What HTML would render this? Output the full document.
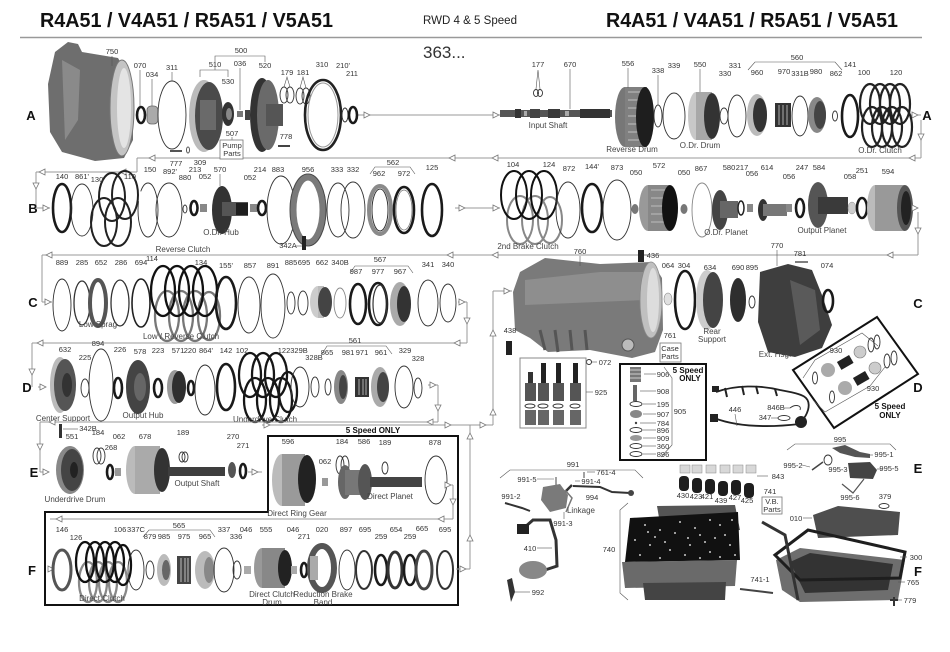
<!DOCTYPE html>
<html><head><meta charset="utf-8"><style>
html,body{margin:0;padding:0;background:#fff;}
svg{display:block;}
.t{font-family:"Liberation Sans",sans-serif;font-size:7.5px;fill:#333;text-anchor:middle;}
.n{font-family:"Liberation Sans",sans-serif;font-size:8px;fill:#444;text-anchor:middle;}
.R{font-family:"Liberation Sans",sans-serif;font-size:13px;font-weight:bold;fill:#111;text-anchor:middle;}
.b{font-family:"Liberation Sans",sans-serif;font-size:8px;font-weight:bold;fill:#111;text-anchor:middle;}
.f{stroke:#999;stroke-width:1;fill:none;}
.th{fill:none;stroke:#333;stroke-width:0.9;}
.k{fill:none;stroke:#1a1a1a;stroke-width:2.6;}
.ld{stroke:#555;stroke-width:0.6;fill:none;}
</style></head><body>
<svg width="950" height="652" viewBox="0 0 950 652" xmlns="http://www.w3.org/2000/svg">
<defs>
<polygon id="r" points="-3,-3 3,0 -3,3" fill="#fff" stroke="#777" stroke-width="0.8"/>
<polygon id="l" points="3,-3 -3,0 3,3" fill="#fff" stroke="#777" stroke-width="0.8"/>
<polygon id="d" points="-3,-3 3,-3 0,3" fill="#fff" stroke="#777" stroke-width="0.8"/>
<polygon id="u" points="-3,3 3,3 0,-3" fill="#fff" stroke="#777" stroke-width="0.8"/>
</defs>
<rect width="950" height="652" fill="#fff"/>

<!-- Titles -->
<text x="40" y="27" font-family="Liberation Sans, sans-serif" font-weight="bold" font-size="20" fill="#111" textLength="293" lengthAdjust="spacingAndGlyphs">R4A51 / V4A51 / R5A51 / V5A51</text>
<text x="423" y="24" font-family="Liberation Sans, sans-serif" font-size="11.5" fill="#222" textLength="94" lengthAdjust="spacingAndGlyphs">RWD 4 &amp; 5 Speed</text>
<text x="606" y="27" font-family="Liberation Sans, sans-serif" font-weight="bold" font-size="20" fill="#111" textLength="292" lengthAdjust="spacingAndGlyphs">R4A51 / V4A51 / R5A51 / V5A51</text>
<line x1="20" y1="37.5" x2="922" y2="37.5" stroke="#999" stroke-width="1.6"/>
<text x="423" y="58" font-family="Liberation Sans, sans-serif" font-size="17" fill="#333">363...</text>

<!-- ROW A flow -->
<line class="f" x1="358" y1="115" x2="505" y2="115"/>
<use href="#r" x="367" y="115"/><use href="#r" x="496" y="115"/>
<line class="f" x1="910" y1="115" x2="921" y2="115"/>
<use href="#r" x="915" y="115"/>
<line class="f" x1="921" y1="120" x2="921" y2="158"/>
<use href="#d" x="921" y="137"/>
<line class="f" x1="137" y1="158" x2="921" y2="158"/>
<use href="#l" x="912" y="158"/><use href="#l" x="495" y="158"/><use href="#l" x="452" y="158"/><use href="#l" x="152" y="158"/>
<line class="f" x1="137" y1="158" x2="137" y2="172"/>
<line class="f" x1="36" y1="172" x2="137" y2="172"/>
<use href="#l" x="42" y="172"/><use href="#l" x="123" y="172"/>
<line class="f" x1="36" y1="172" x2="36" y2="208"/>
<use href="#d" x="36" y="186"/>
<line class="f" x1="36" y1="208" x2="50" y2="208"/>
<use href="#r" x="46" y="208"/>

<text class="R" x="31" y="120">A</text>
<text class="R" x="927" y="120">A</text>

<!-- Case 750 -->
<path d="M55,52 L68,42 L78,44 L82,52 L100,55 L118,58 L126,72 L133,95 L133,140 L124,158 L95,161 L62,152 L50,132 L48,84 Z" fill="#6e6e6e"/>
<path d="M62,60 L80,70 L78,120 L65,140 Z" fill="#8a8a8a"/>
<ellipse cx="122" cy="108" rx="12" ry="48" fill="#c4c4c4" stroke="#777"/>
<ellipse cx="124" cy="108" rx="7" ry="40" fill="#e4e4e4"/>
<text class="t" x="112" y="54">750</text><line class="ld" x1="112" y1="56" x2="112" y2="66"/>
<!-- A parts -->
<ellipse class="k" cx="141" cy="115" rx="4" ry="8" stroke-width="2.8"/>
<text class="t" x="140" y="68">070</text><line class="ld" x1="140" y1="70" x2="140" y2="106"/>
<rect x="147" y="106" width="11" height="18" rx="4" fill="#aaa" stroke="#666" stroke-width="0.8"/>
<text class="t" x="152" y="77">034</text><line class="ld" x1="152" y1="79" x2="152" y2="106"/>
<ellipse class="th" cx="172" cy="115" rx="14" ry="34"/>
<text class="t" x="172" y="70">311</text><line class="ld" x1="172" y1="72" x2="172" y2="81"/>
<ellipse cx="204" cy="116" rx="15" ry="36" fill="#bbb"/>
<ellipse cx="209" cy="116" rx="14" ry="34" fill="#4a4a4a"/>
<rect x="200" y="100" width="16" height="30" fill="#6a6a6a"/>
<path class="ld" d="M200,77 V70 H228 V77"/>
<text class="t" x="215" y="67">510</text>
<path class="ld" d="M215,70 V56 H265 V62"/>
<text class="t" x="241" y="53">500</text>
<ellipse cx="228" cy="114" rx="6" ry="12" fill="#333"/>
<ellipse cx="229" cy="114" rx="3" ry="6" fill="#888"/>
<text class="t" x="228" y="84">530</text>
<rect x="237" y="111" width="6" height="6" fill="#777"/>
<text class="t" x="240" y="66">036</text><line class="ld" x1="240" y1="68" x2="240" y2="110"/>
<rect x="245" y="110" width="5" height="10" fill="#444"/>
<ellipse cx="262" cy="115" rx="12" ry="37" fill="#333"/>
<ellipse cx="268" cy="115" rx="11" ry="35" fill="#6a6a6a"/>
<rect x="266" y="104" width="17" height="22" fill="#555"/>
<text class="t" x="265" y="68">520</text>
<line x1="278" y1="146" x2="290" y2="146" stroke="#444" stroke-width="2"/>
<text class="t" x="286" y="139">778</text>
<ellipse class="th" cx="284" cy="95" rx="4" ry="8"/><ellipse class="th" cx="290" cy="95" rx="4" ry="8"/>
<text class="t" x="287" y="75">179</text><path class="ld" d="M284,87 L287,77 L290,87"/>
<ellipse class="th" cx="300" cy="96" rx="4" ry="8"/><ellipse class="th" cx="306" cy="96" rx="4" ry="8"/>
<text class="t" x="303" y="75">181</text><path class="ld" d="M300,88 L303,77 L306,88"/>
<ellipse cx="323" cy="115" rx="18" ry="35" fill="none" stroke="#222" stroke-width="2.6"/>
<ellipse cx="323" cy="115" rx="15" ry="32" fill="none" stroke="#999" stroke-width="1"/>
<text class="t" x="322" y="67">310</text>
<ellipse class="th" cx="345" cy="115" rx="3" ry="7"/>
<ellipse class="k" cx="353" cy="115" rx="4" ry="8" stroke-width="2"/>
<text class="t" x="343" y="68">210'</text><text class="t" x="352" y="76">211</text>
<text class="t" x="232" y="136">507</text><line class="ld" x1="232" y1="137" x2="232" y2="140"/>
<rect x="220" y="140" width="23" height="19" fill="#fff" stroke="#777" stroke-width="0.8"/>
<text class="t" x="232" y="148">Pump</text><text class="t" x="232" y="156">Parts</text>
<line x1="170" y1="151" x2="182" y2="151" stroke="#555" stroke-width="2"/>
<text class="t" x="176" y="166">777</text>
<ellipse cx="188" cy="150" rx="1.5" ry="3" fill="none" stroke="#555"/>
<text class="t" x="200" y="165">309</text>

<!-- A right -->
<rect x="500" y="110" width="112" height="7" fill="#555"/>
<rect x="515" y="109" width="6" height="9" fill="#333"/><rect x="530" y="109" width="10" height="9" fill="#444"/><rect x="548" y="109" width="12" height="9" fill="#3a3a3a"/><rect x="580" y="109" width="30" height="9" fill="#333"/>
<rect x="524" y="111" width="3" height="5" fill="#aaa"/><rect x="565" y="111" width="4" height="5" fill="#aaa"/>
<text class="n" x="548" y="128">Input Shaft</text>
<ellipse class="th" cx="536" cy="93" rx="2.5" ry="3.5"/><ellipse class="th" cx="540" cy="93" rx="2.5" ry="3.5"/>
<text class="t" x="538" y="67">177</text><path class="ld" d="M536,89 L538,70 L540,89"/>
<text class="t" x="570" y="67">670</text><line class="ld" x1="570" y1="69" x2="570" y2="109"/>
<ellipse cx="625" cy="117" rx="10" ry="30" fill="#777"/>
<rect x="625" y="87" width="22" height="60" fill="#808080"/>
<path d="M628,92 H645 M628,100 H645 M628,108 H645 M628,116 H645 M628,124 H645 M628,132 H645 M628,140 H645" stroke="#aaa" stroke-width="1.5"/>
<ellipse cx="645" cy="117" rx="9" ry="30" fill="#1e1e1e"/>
<text class="t" x="628" y="66">556</text><line class="ld" x1="628" y1="68" x2="628" y2="88"/>
<text class="n" x="632" y="152">Reverse Drum</text>
<ellipse class="th" cx="658" cy="116" rx="4" ry="11"/>
<text class="t" x="658" y="73">338</text><line class="ld" x1="658" y1="75" x2="658" y2="105"/>
<ellipse class="th" cx="674" cy="116" rx="11" ry="23"/>
<text class="t" x="674" y="68">339</text>
<ellipse cx="696" cy="116" rx="8" ry="24" fill="#c8c8c8"/>
<rect x="696" y="92" width="16" height="48" fill="#a8a8a8"/>
<ellipse cx="712" cy="116" rx="8" ry="23" fill="#333"/>
<text class="t" x="700" y="67">550</text><line class="ld" x1="700" y1="69" x2="700" y2="92"/>
<text class="n" x="700" y="148">O.Dr. Drum</text>
<ellipse class="th" cx="724" cy="116" rx="4" ry="8"/>
<text class="t" x="725" y="76">330</text>
<ellipse class="th" cx="737" cy="116" rx="9" ry="21"/>
<text class="t" x="735" y="68">331</text>
<ellipse cx="757" cy="115" rx="10" ry="21" fill="#bbb"/>
<ellipse cx="760" cy="115" rx="7" ry="17" fill="#333"/>
<text class="t" x="757" y="75">960</text>
<rect x="775" y="103" width="16" height="24" fill="#333"/>
<path d="M779,105 V125 M783,105 V125 M787,105 V125" stroke="#999" stroke-width="1.2"/>
<text class="t" x="784" y="74">970</text>
<ellipse class="th" cx="800" cy="116" rx="8" ry="20"/>
<text class="t" x="800" y="76">331B</text>
<ellipse cx="817" cy="115" rx="9" ry="18" fill="#888"/>
<ellipse cx="820" cy="115" rx="6" ry="14" fill="#444"/>
<text class="t" x="816" y="74">980</text>
<ellipse class="th" cx="835" cy="116" rx="2.5" ry="5"/>
<text class="t" x="836" y="76">862</text>
<path class="ld" d="M748,70 L755,62 H835 L842,70"/>
<text class="t" x="797" y="60">560</text>
<ellipse class="k" cx="850" cy="116" rx="8" ry="21" stroke-width="3"/>
<text class="t" x="850" y="67">141</text>
<g fill="none" stroke="#222" stroke-width="2.2">
<ellipse cx="870" cy="104" rx="10" ry="20"/><ellipse cx="880" cy="104" rx="10" ry="20"/><ellipse cx="890" cy="104" rx="10" ry="20"/><ellipse cx="900" cy="104" rx="10" ry="20"/>
<ellipse cx="872" cy="127" rx="10" ry="20"/><ellipse cx="882" cy="127" rx="10" ry="20"/><ellipse cx="892" cy="127" rx="10" ry="20"/><ellipse cx="902" cy="127" rx="10" ry="20"/>
</g>
<text class="t" x="864" y="75">100</text><text class="t" x="896" y="75">120</text>
<text class="n" x="880" y="153">O.Dr. Clutch</text>

<!-- ROW B -->
<text class="R" x="33" y="213">B</text>
<ellipse class="k" cx="62" cy="208" rx="9" ry="24" stroke-width="3"/>
<text class="t" x="62" y="179">140</text>
<ellipse class="th" cx="82" cy="210" rx="11" ry="26"/>
<text class="t" x="82" y="179">861'</text>
<g fill="none" stroke="#222" stroke-width="2">
<ellipse cx="112" cy="197" rx="13" ry="24"/><ellipse cx="125" cy="195" rx="13" ry="24"/>
<ellipse cx="104" cy="222" rx="13" ry="24"/><ellipse cx="118" cy="222" rx="13" ry="24"/>
</g>
<text class="t" x="97" y="182">130</text><text class="t" x="130" y="179">110</text>
<text class="n" x="183" y="252">Reverse Clutch</text>
<ellipse class="th" cx="148" cy="210" rx="10" ry="27" stroke-width="1.3" stroke-dasharray="70 10"/>
<text class="t" x="150" y="172">150</text>
<ellipse class="th" cx="169" cy="210" rx="13" ry="27"/>
<text class="t" x="170" y="174">892'</text>
<ellipse class="th" cx="185" cy="209" rx="2" ry="4"/>
<text class="t" x="185" y="180">880</text>
<ellipse class="k" cx="194" cy="208" rx="3.5" ry="7" stroke-width="2"/>
<text class="t" x="195" y="172">213</text>
<rect x="200" y="204" width="7" height="8" fill="#888"/>
<text class="t" x="205" y="179">052</text>
<ellipse cx="222" cy="210" rx="10" ry="24" fill="#333"/>
<rect x="222" y="202" width="26" height="14" fill="#555"/>
<rect x="236" y="203" width="12" height="12" fill="#1e1e1e"/>
<text class="t" x="220" y="172">570</text><line class="ld" x1="220" y1="174" x2="220" y2="186"/>
<text class="n" x="221" y="235">O.Dr. Hub</text>
<rect x="250" y="204" width="7" height="8" fill="#888"/>
<text class="t" x="250" y="180">052</text>
<ellipse class="k" cx="262" cy="208" rx="4" ry="7" stroke-width="2"/>
<text class="t" x="260" y="172">214</text>
<ellipse class="th" cx="281" cy="210" rx="14" ry="34" stroke-dasharray="150 12"/>
<text class="t" x="278" y="172">883</text>
<ellipse cx="308" cy="210" rx="15" ry="33" fill="none" stroke="#7a7a7a" stroke-width="7"/>
<ellipse cx="308" cy="210" rx="18" ry="36" fill="none" stroke="#444" stroke-width="0.8"/>
<text class="t" x="308" y="172">956</text>
<rect x="302" y="236" width="4" height="14" fill="#222"/>
<text class="t" x="288" y="248">342A</text><line class="ld" x1="296" y1="246" x2="302" y2="246"/>
<ellipse class="th" cx="338" cy="210" rx="11" ry="27"/>
<ellipse class="th" cx="353" cy="210" rx="12" ry="28"/>
<text class="t" x="337" y="172">333</text><text class="t" x="353" y="172">332</text>
<path class="ld" d="M370,174 L375,167 H410 L415,174"/>
<text class="t" x="393" y="165">562</text>
<ellipse cx="380" cy="210" rx="11" ry="24" fill="none" stroke="#8a8a8a" stroke-width="4"/>
<ellipse cx="380" cy="210" rx="8" ry="21" fill="none" stroke="#333" stroke-width="1"/>
<text class="t" x="379" y="176">962</text>
<ellipse class="k" cx="404" cy="210" rx="10" ry="23" stroke-width="2.4"/>
<ellipse cx="404" cy="210" rx="8" ry="20" fill="none" stroke="#777" stroke-width="0.8"/>
<text class="t" x="404" y="176">972</text>
<ellipse class="k" cx="432" cy="210" rx="10" ry="26" stroke-width="3"/>
<text class="t" x="432" y="170">125</text>
<line class="f" x1="455" y1="208" x2="500" y2="208"/>
<use href="#r" x="462" y="208"/><use href="#r" x="496" y="208"/>

<!-- B right -->
<g fill="none" stroke-width="2">
<ellipse cx="520" cy="220" rx="13" ry="24" stroke="#888"/><ellipse cx="535" cy="220" rx="13" ry="24" stroke="#888"/><ellipse cx="550" cy="220" rx="12" ry="23" stroke="#888"/>
<ellipse cx="514" cy="195" rx="13" ry="24" stroke="#111"/><ellipse cx="529" cy="195" rx="13" ry="24" stroke="#111"/><ellipse cx="544" cy="195" rx="13" ry="24" stroke="#111"/>
</g>
<text class="t" x="513" y="167">104</text><text class="t" x="549" y="167">124</text>
<text class="n" x="528" y="249">2nd Brake Clutch</text>
<ellipse class="th" cx="568" cy="210" rx="12" ry="28" stroke-dasharray="140 12"/>
<text class="t" x="569" y="171">872</text>
<ellipse class="k" cx="592" cy="208" rx="10" ry="24" stroke-width="3"/>
<text class="t" x="592" y="169">144'</text>
<ellipse class="th" cx="617" cy="210" rx="14" ry="30"/>
<text class="t" x="617" y="170">873</text>
<ellipse cx="635" cy="209" rx="3.5" ry="5" fill="#777"/>
<text class="t" x="636" y="175">050</text>
<ellipse cx="648" cy="208" rx="9" ry="23" fill="#999"/>
<rect x="648" y="185" width="22" height="46" fill="#888"/>
<path d="M651,190 H668 M651,198 H668 M651,206 H668 M651,214 H668 M651,222 H668" stroke="#aaa" stroke-width="1.5"/>
<ellipse cx="670" cy="208" rx="8" ry="23" fill="#111"/>
<text class="t" x="659" y="168">572</text>
<ellipse cx="684" cy="209" rx="3.5" ry="5" fill="#777"/>
<text class="t" x="684" y="175">050</text>
<ellipse cx="702" cy="210" rx="10" ry="27" fill="none" stroke="#888" stroke-width="0.9" stroke-dasharray="140 12"/>
<text class="t" x="701" y="171">867</text>
<ellipse cx="720" cy="210" rx="8" ry="20" fill="#444"/>
<rect x="720" y="201" width="18" height="17" fill="#666"/>
<text class="t" x="729" y="170">580</text>
<text class="n" x="726" y="235">O.Dr. Planet</text>
<ellipse cx="741" cy="208" rx="3" ry="7" fill="none" stroke="#222" stroke-width="1.5"/>
<text class="t" x="742" y="170">217</text>
<rect x="747" y="204" width="6" height="8" fill="#888"/>
<text class="t" x="752" y="176">056</text>
<ellipse cx="763" cy="210" rx="5" ry="11" fill="#333"/>
<rect x="763" y="204" width="24" height="12" fill="#777"/>
<text class="t" x="767" y="170">614</text>
<rect x="786" y="204" width="6" height="8" fill="#888"/>
<text class="t" x="789" y="179">056</text>
<ellipse class="k" cx="800" cy="208" rx="4" ry="9" stroke-width="2"/>
<text class="t" x="802" y="170">247</text>
<ellipse cx="818" cy="205" rx="10" ry="23" fill="#555"/>
<rect x="818" y="197" width="30" height="17" fill="#3a3a3a"/>
<text class="t" x="819" y="170">584</text>
<text class="n" x="822" y="233">Output Planet</text>
<ellipse cx="852" cy="208" rx="4" ry="6" fill="#ccc" stroke="#888" stroke-width="0.5"/>
<text class="t" x="850" y="179">058</text>
<ellipse class="k" cx="862" cy="208" rx="5" ry="10" stroke-width="2"/>
<text class="t" x="862" y="173">251</text>
<ellipse cx="875" cy="208" rx="8" ry="23" fill="#bbb"/>
<rect x="875" y="185" width="30" height="46" fill="#999"/>
<ellipse cx="905" cy="208" rx="8" ry="23" fill="#555"/>
<ellipse cx="906" cy="208" rx="5" ry="17" fill="#222"/>
<text class="t" x="888" y="174">594</text>
<line class="f" x1="913" y1="208" x2="918" y2="208"/>
<use href="#r" x="915" y="208"/>
<line class="f" x1="918" y1="212" x2="918" y2="255"/>
<use href="#d" x="918" y="231"/>
<line class="f" x1="42" y1="255" x2="918" y2="255"/>
<use href="#l" x="890" y="255"/><use href="#l" x="495" y="255"/><use href="#l" x="450" y="255"/><use href="#l" x="49" y="255"/>

<!-- ROW C -->
<line class="f" x1="42" y1="255" x2="42" y2="302"/>
<line class="f" x1="42" y1="302" x2="52" y2="302"/>
<use href="#r" x="48" y="302"/>
<text class="R" x="33" y="307">C</text>
<ellipse class="th" cx="62" cy="305" rx="9" ry="26" stroke-dasharray="130 10"/>
<text class="t" x="62" y="265">889</text>
<ellipse cx="82" cy="303" rx="8" ry="22" fill="none" stroke="#333" stroke-width="1.3"/>
<text class="t" x="82" y="265">285</text>
<ellipse cx="98" cy="303" rx="8" ry="23" fill="none" stroke="#555" stroke-width="4"/>
<text class="t" x="101" y="265">652</text>
<ellipse cx="120" cy="303" rx="9" ry="23" fill="none" stroke="#333" stroke-width="1.3"/>
<text class="t" x="121" y="265">286</text>
<ellipse cx="141" cy="303" rx="9" ry="24" fill="none" stroke="#222" stroke-width="1.6"/>
<text class="t" x="141" y="265">694</text>
<text class="n" x="98" y="327">Low Sprag</text>
<g fill="none" stroke-width="2.3">
<ellipse cx="167" cy="316" rx="12" ry="25" stroke="#777"/><ellipse cx="181" cy="316" rx="12" ry="25" stroke="#777"/><ellipse cx="195" cy="316" rx="12" ry="25" stroke="#777"/><ellipse cx="209" cy="316" rx="11" ry="24" stroke="#777"/>
<ellipse cx="163" cy="291" rx="12" ry="25" stroke="#111"/><ellipse cx="177" cy="291" rx="12" ry="25" stroke="#111"/><ellipse cx="191" cy="291" rx="12" ry="25" stroke="#111"/><ellipse cx="205" cy="291" rx="12" ry="25" stroke="#111"/>
</g>
<text class="t" x="152" y="261">114</text><text class="t" x="201" y="265">134</text>
<text class="n" x="181" y="339">Low / Reverse Clutch</text>
<ellipse class="k" cx="226" cy="303" rx="10" ry="26" stroke-width="3"/>
<text class="t" x="226" y="268">155'</text>
<ellipse class="th" cx="249" cy="305" rx="11" ry="28"/>
<text class="t" x="250" y="268">857</text>
<ellipse class="th" cx="273" cy="306" rx="12" ry="32" stroke-dasharray="170 12"/>
<text class="t" x="273" y="268">891</text>
<ellipse class="th" cx="291" cy="303" rx="4" ry="11"/>
<text class="t" x="291" y="265">885</text>
<ellipse class="th" cx="303" cy="303" rx="5" ry="12"/>
<text class="t" x="304" y="265">695</text>
<ellipse cx="318" cy="302" rx="8" ry="16" fill="#ccc"/>
<rect x="318" y="286" width="6" height="32" fill="#bbb"/>
<ellipse cx="325" cy="302" rx="7" ry="15" fill="#444"/>
<text class="t" x="322" y="265">662</text>
<ellipse cx="340" cy="303" rx="6" ry="15" fill="none" stroke="#888" stroke-width="0.9"/>
<text class="t" x="340" y="265">340B</text>
<path class="ld" d="M350,273 L355,266 H408 L413,273"/>
<text class="t" x="380" y="262">567</text>
<ellipse class="k" cx="358" cy="304" rx="8" ry="20" stroke-width="4"/>
<text class="t" x="356" y="274">987</text>
<ellipse class="k" cx="378" cy="304" rx="9" ry="21" stroke-width="2.2"/>
<ellipse cx="380" cy="304" rx="7" ry="19" fill="none" stroke="#333" stroke-width="1.2"/>
<text class="t" x="378" y="274">977</text>
<ellipse cx="400" cy="304" rx="10" ry="22" fill="#aaa"/>
<ellipse cx="404" cy="304" rx="7" ry="18" fill="#333"/>
<text class="t" x="400" y="274">967</text>
<ellipse class="th" cx="428" cy="303" rx="10" ry="23"/>
<text class="t" x="428" y="267">341</text>
<ellipse class="th" cx="448" cy="303" rx="8" ry="19"/>
<text class="t" x="448" y="267">340</text>
<line class="f" x1="458" y1="302" x2="467" y2="302"/>
<use href="#r" x="462" y="302"/>
<line class="f" x1="467" y1="302" x2="467" y2="343"/>
<use href="#d" x="467" y="321"/>
<line class="f" x1="32" y1="343" x2="467" y2="343"/>
<use href="#l" x="457" y="343"/><use href="#l" x="40" y="343"/>

<!-- C right: case etc -->
<line class="f" x1="493" y1="291" x2="512" y2="291"/>
<use href="#r" x="507" y="291"/>
<line class="f" x1="493" y1="291" x2="493" y2="425"/>
<use href="#u" x="493" y="333"/><use href="#u" x="493" y="412"/>
<path d="M520,272 L545,258 L600,264 L652,262 L662,278 L663,330 L655,352 L632,358 L590,350 L548,352 L530,338 L515,330 L513,292 Z" fill="#7a7a7a"/>
<path d="M525,280 L600,272 L645,272 L645,300 L525,305 Z" fill="#8e8e8e"/>
<path d="M540,330 L545,350 M555,330 L558,352 M570,330 L572,350 M585,330 L587,350" stroke="#555" stroke-width="3"/>
<ellipse cx="651" cy="300" rx="11" ry="38" fill="#c0c0c0" stroke="#888" stroke-width="0.8"/>
<ellipse cx="653" cy="300" rx="6" ry="32" fill="#ddd"/>
<circle cx="628" cy="345" r="6" fill="#bbb" stroke="#555"/>
<text class="t" x="580" y="254">760</text><line class="ld" x1="580" y1="256" x2="580" y2="266"/>
<rect x="638" y="250" width="6" height="12" fill="#222"/>
<text class="t" x="653" y="258">436</text><line class="ld" x1="644" y1="255" x2="648" y2="255"/>
<rect x="506" y="341" width="6" height="14" fill="#222"/>
<text class="t" x="510" y="333">438</text>
<ellipse cx="668" cy="299" rx="4" ry="6" fill="#e0e0e0" stroke="#888" stroke-width="0.6"/>
<text class="t" x="668" y="268">064</text>
<ellipse class="k" cx="685" cy="300" rx="10" ry="29" stroke-width="2.5"/>
<text class="t" x="684" y="268">304</text>
<ellipse cx="707" cy="300" rx="11" ry="30" fill="#ccc"/>
<ellipse cx="713" cy="300" rx="10" ry="28" fill="#444"/>
<text class="t" x="710" y="270">634</text>
<text class="n" x="712" y="334">Rear</text><text class="n" x="712" y="342">Support</text>
<ellipse cx="738" cy="300" rx="8" ry="22" fill="#2e2e2e"/>
<text class="t" x="738" y="270">690</text>
<ellipse class="th" cx="752" cy="302" rx="3" ry="6"/>
<text class="t" x="752" y="270">895</text>
<path d="M760,272 L788,264 L812,270 L822,295 L832,325 L822,348 L795,357 L768,352 L758,322 Z" fill="#3e3e3e"/>
<path d="M790,280 L815,290 L820,330 L800,345 Z" fill="#5a5a5a"/>
<text class="t" x="777" y="248">770</text><line class="ld" x1="777" y1="250" x2="777" y2="266"/>
<line x1="795" y1="262" x2="808" y2="262" stroke="#555" stroke-width="1.5"/>
<text class="t" x="800" y="256">781</text>
<ellipse class="k" cx="828" cy="301" rx="5" ry="11" stroke-width="3"/>
<text class="t" x="827" y="268">074</text>
<text class="n" x="775" y="357">Ext. Hsg.</text>
<text class="R" x="918" y="308">C</text>
<text class="t" x="670" y="338">761</text>
<rect x="660" y="343" width="21" height="19" fill="#fff" stroke="#777" stroke-width="0.8"/>
<text class="t" x="670" y="351">Case</text><text class="t" x="670" y="359">Parts</text>
<circle cx="589" cy="362" r="2.5" fill="none" stroke="#333"/>
<line class="ld" x1="592" y1="362" x2="597" y2="362"/>
<text class="t" x="605" y="365">072</text>

<!-- ROW D -->
<line class="f" x1="32" y1="343" x2="32" y2="387"/>
<use href="#d" x="32" y="372"/>
<line class="f" x1="38" y1="387" x2="46" y2="387"/>
<use href="#r" x="43" y="387"/>
<text class="R" x="27" y="392">D</text>
<ellipse cx="60" cy="385" rx="10" ry="28" fill="#bbb"/>
<ellipse cx="65" cy="385" rx="11" ry="26" fill="#555"/>
<ellipse cx="67" cy="385" rx="5" ry="12" fill="#333"/>
<text class="t" x="65" y="352">632</text>
<text class="n" x="63" y="421">Center Support</text>
<ellipse class="th" cx="85" cy="388" rx="4" ry="9"/>
<text class="t" x="85" y="360">225</text>
<ellipse class="th" cx="101" cy="385" rx="12" ry="36" stroke-dasharray="190 14"/>
<text class="t" x="98" y="346">894</text>
<ellipse class="k" cx="118" cy="388" rx="4" ry="10" stroke-width="1.6"/>
<text class="t" x="120" y="352">226</text>
<ellipse cx="138" cy="387" rx="12" ry="27" fill="#444"/>
<ellipse cx="140" cy="387" rx="6" ry="14" fill="#666"/>
<text class="t" x="140" y="354">578</text>
<text class="n" x="143" y="418">Output Hub</text>
<ellipse class="k" cx="158" cy="388" rx="4" ry="9" stroke-width="2"/>
<text class="t" x="158" y="353">223</text>
<ellipse cx="175" cy="387" rx="8" ry="17" fill="#999"/>
<ellipse cx="179" cy="387" rx="7" ry="16" fill="#2e2e2e"/>
<text class="t" x="178" y="353">571</text>
<ellipse class="k" cx="191" cy="388" rx="3" ry="7" stroke-width="2"/>
<text class="t" x="190" y="353">220</text>
<ellipse class="th" cx="205" cy="390" rx="10" ry="25" stroke-dasharray="130 10"/>
<text class="t" x="206" y="353">864'</text>
<ellipse class="k" cx="226" cy="387" rx="9" ry="23" stroke-width="3"/>
<text class="t" x="226" y="353">142</text>
<g fill="none" stroke="#161616" stroke-width="2.3">
<ellipse cx="250" cy="375" rx="11" ry="22"/><ellipse cx="263" cy="375" rx="11" ry="22"/><ellipse cx="276" cy="375" rx="11" ry="22"/>
<ellipse cx="255" cy="400" rx="11" ry="22"/><ellipse cx="268" cy="400" rx="11" ry="22"/><ellipse cx="281" cy="400" rx="11" ry="22"/><ellipse cx="288" cy="392" rx="9" ry="20"/>
</g>
<text class="t" x="242" y="353">102</text><text class="t" x="284" y="353">122</text>
<text class="n" x="265" y="422">Underdrive Clutch</text>
<ellipse class="th" cx="300" cy="387" rx="9" ry="20"/>
<text class="t" x="299" y="353">329B</text>
<ellipse class="th" cx="315" cy="387" rx="4" ry="10"/>
<text class="t" x="314" y="360">328B</text>
<path class="ld" d="M322,354 L327,346 H386 L392,354"/>
<text class="t" x="355" y="343">561</text>
<ellipse class="th" cx="328" cy="387" rx="3" ry="8"/>
<text class="t" x="327" y="355">865</text>
<ellipse cx="341" cy="387" rx="7" ry="17" fill="#888"/>
<ellipse cx="343" cy="387" rx="4" ry="12" fill="#444"/>
<text class="t" x="348" y="355">981</text>
<rect x="355" y="377" width="14" height="20" fill="#333"/>
<path d="M359,379 V395 M363,379 V395 M366,379 V395" stroke="#999" stroke-width="1.2"/>
<text class="t" x="362" y="355">971</text>
<ellipse cx="380" cy="387" rx="9" ry="20" fill="#aaa"/>
<ellipse cx="383" cy="387" rx="6" ry="15" fill="#444"/>
<text class="t" x="381" y="355">961</text>
<ellipse class="th" cx="404" cy="387" rx="9" ry="21"/>
<text class="t" x="405" y="353">329</text>
<ellipse class="th" cx="418" cy="388" rx="4" ry="10"/>
<text class="t" x="418" y="361">328</text>
<line class="f" x1="428" y1="385" x2="438" y2="385"/>
<use href="#r" x="433" y="385"/>
<line class="f" x1="438" y1="385" x2="438" y2="422"/>
<use href="#d" x="438" y="408"/>
<line class="f" x1="40" y1="422" x2="438" y2="422"/>
<use href="#l" x="430" y="422"/><use href="#l" x="52" y="422"/>
<line class="f" x1="262" y1="425" x2="493" y2="425"/>
<use href="#r" x="267" y="425"/><use href="#r" x="448" y="425"/><use href="#r" x="483" y="425"/>
<line class="f" x1="470" y1="425" x2="470" y2="569"/>
<use href="#u" x="470" y="436"/><use href="#u" x="470" y="538"/>

<!-- ROW E -->
<line class="f" x1="40" y1="422" x2="40" y2="472"/>
<use href="#d" x="40" y="447"/>
<line class="f" x1="40" y1="472" x2="49" y2="472"/>
<use href="#r" x="46" y="472"/>
<text class="R" x="34" y="477">E</text>
<rect x="59" y="424" width="3" height="14" fill="#333"/>
<text class="t" x="88" y="431">342B</text><line class="ld" x1="63" y1="429" x2="78" y2="429"/>
<ellipse cx="70" cy="470" rx="14" ry="24" fill="#888"/>
<ellipse cx="72" cy="470" rx="11" ry="21" fill="#444"/>
<ellipse cx="74" cy="470" rx="4" ry="8" fill="#222"/>
<text class="t" x="72" y="439">551</text>
<text class="n" x="75" y="502">Underdrive Drum</text>
<ellipse class="th" cx="97" cy="456" rx="4" ry="8"/><ellipse class="th" cx="101" cy="456" rx="4" ry="8"/>
<text class="t" x="98" y="435">184</text>
<ellipse class="k" cx="110" cy="472" rx="3" ry="7" stroke-width="2"/>
<text class="t" x="111" y="450">268</text>
<rect x="115" y="468" width="6" height="8" fill="#999"/>
<text class="t" x="119" y="439">062</text>
<ellipse cx="135" cy="470" rx="9" ry="24" fill="#bbb"/>
<rect x="135" y="446" width="25" height="48" fill="#aaa"/>
<ellipse cx="162" cy="470" rx="8" ry="22" fill="#333"/>
<text class="t" x="145" y="439">678</text>
<rect x="168" y="467" width="57" height="9" fill="#3e3e3e"/>
<text class="n" x="197" y="486">Output Shaft</text>
<ellipse class="th" cx="182" cy="457" rx="3" ry="5"/><ellipse class="th" cx="185" cy="457" rx="3" ry="5"/>
<text class="t" x="183" y="435">189</text>
<ellipse cx="232" cy="470" rx="4" ry="8" fill="#555"/>
<text class="t" x="233" y="439">270</text>
<ellipse class="k" cx="243" cy="471" rx="3" ry="7" stroke-width="2"/>
<text class="t" x="243" y="448">271</text>
<line class="f" x1="248" y1="472" x2="262" y2="472"/>
<use href="#r" x="255" y="472"/>

<!-- 5 speed box -->
<path d="M268,436 H458 V605 H45 V512 H268 Z" fill="none" stroke="#111" stroke-width="2"/>
<text class="b" x="373" y="433">5 Speed ONLY</text>
<ellipse cx="282" cy="480" rx="10" ry="26" fill="#bbb"/>
<rect x="282" y="454" width="23" height="52" fill="#9a9a9a"/>
<ellipse cx="307" cy="479" rx="9" ry="24" fill="#222"/>
<text class="t" x="288" y="444">596</text>
<text class="n" x="297" y="516">Direct Ring Gear</text>
<rect x="322" y="478" width="6" height="8" fill="#999"/>
<text class="t" x="325" y="464">062</text>
<ellipse class="th" cx="340" cy="465" rx="4" ry="9"/><ellipse class="th" cx="345" cy="465" rx="4" ry="9"/>
<text class="t" x="342" y="444">184</text>
<ellipse cx="345" cy="482" rx="7" ry="17" fill="#666"/>
<rect x="345" y="470" width="25" height="25" fill="#777"/>
<ellipse cx="365" cy="482" rx="7" ry="18" fill="#555"/>
<rect x="370" y="477" width="52" height="10" fill="#444"/>
<text class="t" x="364" y="444">586</text>
<text class="n" x="390" y="499">Direct Planet</text>
<ellipse class="th" cx="385" cy="468" rx="3" ry="6"/>
<text class="t" x="385" y="445">189</text>
<ellipse class="th" cx="436" cy="480" rx="11" ry="24"/>
<text class="t" x="435" y="445">878</text>
<use href="#r" x="448" y="485"/>
<line class="f" x1="451" y1="485" x2="453" y2="485"/>
<line class="f" x1="453" y1="485" x2="453" y2="519"/>
<use href="#d" x="453" y="502"/>
<line class="f" x1="50" y1="519" x2="453" y2="519"/>
<use href="#l" x="441" y="519"/><use href="#l" x="59" y="519"/>

<!-- ROW F -->
<text class="R" x="32" y="575">F</text>
<use href="#r" x="51" y="569"/>
<ellipse cx="62" cy="570" rx="9" ry="20" fill="none" stroke="#555" stroke-width="3"/>
<text class="t" x="62" y="532">146</text>
<g fill="none" stroke-width="2.3">
<ellipse cx="88" cy="582" rx="9" ry="20" stroke="#888"/><ellipse cx="98" cy="582" rx="9" ry="20" stroke="#888"/><ellipse cx="108" cy="582" rx="9" ry="20" stroke="#888"/><ellipse cx="118" cy="582" rx="9" ry="20" stroke="#888"/>
<ellipse cx="85" cy="562" rx="9" ry="20" stroke="#111"/><ellipse cx="95" cy="562" rx="9" ry="20" stroke="#111"/><ellipse cx="105" cy="562" rx="9" ry="20" stroke="#111"/><ellipse cx="115" cy="562" rx="9" ry="20" stroke="#111"/><ellipse cx="123" cy="565" rx="8" ry="20" stroke="#111"/>
</g>
<text class="t" x="76" y="540">126</text><text class="t" x="120" y="532">106</text>
<text class="n" x="102" y="601">Direct Clutch</text>
<ellipse class="th" cx="136" cy="570" rx="8" ry="20"/>
<text class="t" x="136" y="532">337C</text>
<path class="ld" d="M143,537 L149,530 H210 L215,537"/>
<text class="t" x="179" y="528">565</text>
<ellipse class="th" cx="150" cy="570" rx="4" ry="9"/>
<text class="t" x="150" y="539">879</text>
<ellipse cx="164" cy="570" rx="7" ry="16" fill="#bbb"/>
<ellipse cx="166" cy="570" rx="4" ry="10" fill="#666"/>
<text class="t" x="164" y="539">985</text>
<rect x="177" y="556" width="14" height="28" fill="#444"/>
<path d="M181,558 V582 M185,558 V582 M188,558 V582" stroke="#aaa" stroke-width="1.2"/>
<text class="t" x="184" y="539">975</text>
<ellipse cx="205" cy="570" rx="10" ry="19" fill="#bbb"/>
<ellipse cx="209" cy="570" rx="5" ry="13" fill="#888"/>
<text class="t" x="205" y="539">965</text>
<ellipse class="th" cx="224" cy="570" rx="10" ry="22"/>
<text class="t" x="224" y="532">337</text>
<ellipse class="th" cx="237" cy="570" rx="4" ry="9"/>
<text class="t" x="236" y="539">336</text>
<rect x="244" y="566" width="7" height="8" fill="#aaa"/>
<text class="t" x="246" y="532">046</text>
<ellipse cx="262" cy="568" rx="8" ry="20" fill="#999"/>
<rect x="262" y="548" width="23" height="40" fill="#888"/>
<ellipse cx="285" cy="568" rx="7" ry="18" fill="#222"/>
<text class="t" x="266" y="532">555</text>
<text class="n" x="272" y="597">Direct Clutch</text><text class="n" x="272" y="605">Drum</text>
<rect x="291" y="566" width="6" height="8" fill="#aaa"/>
<text class="t" x="293" y="532">046</text>
<ellipse class="k" cx="304" cy="570" rx="3" ry="7" stroke-width="2"/>
<text class="t" x="304" y="539">271</text>
<ellipse cx="322" cy="568" rx="12" ry="22" fill="none" stroke="#555" stroke-width="6"/>
<rect x="310" y="556" width="8" height="24" fill="#aaa"/>
<text class="t" x="322" y="532">020</text>
<text class="n" x="323" y="597">Reduction Brake</text><text class="n" x="323" y="605">Band</text>
<ellipse class="th" cx="347" cy="570" rx="8" ry="20"/>
<text class="t" x="346" y="532">897</text>
<ellipse cx="364" cy="570" rx="8" ry="19" fill="none" stroke="#333" stroke-width="2"/>
<text class="t" x="365" y="532">695</text>
<ellipse class="k" cx="381" cy="570" rx="6" ry="15" stroke-width="2"/>
<text class="t" x="381" y="539">259</text>
<ellipse cx="395" cy="570" rx="7" ry="18" fill="none" stroke="#333" stroke-width="3"/>
<text class="t" x="396" y="532">654</text>
<ellipse class="k" cx="410" cy="570" rx="6" ry="15" stroke-width="2"/>
<text class="t" x="410" y="539">259</text>
<ellipse cx="424" cy="570" rx="8" ry="19" fill="none" stroke="#444" stroke-width="3"/>
<text class="t" x="422" y="531">665</text>
<ellipse cx="445" cy="570" rx="8" ry="19" fill="none" stroke="#333" stroke-width="2"/>
<text class="t" x="445" y="532">695</text>
<line class="f" x1="456" y1="569" x2="470" y2="569"/>
<use href="#r" x="463" y="569"/>

<!-- 925 box -->
<rect x="520" y="358" width="66" height="70" fill="none" stroke="#888" stroke-width="1"/>
<g>
<rect x="528" y="372" width="5" height="20" fill="#333"/><rect x="541" y="363" width="5" height="30" fill="#222"/><rect x="556" y="363" width="5" height="30" fill="#222"/><rect x="573" y="363" width="5" height="30" fill="#222"/>
<rect x="525" y="383" width="11" height="18" fill="#555"/><rect x="538" y="383" width="11" height="18" fill="#555"/><rect x="553" y="383" width="11" height="18" fill="#555"/><rect x="570" y="383" width="11" height="18" fill="#555"/>
<ellipse class="th" cx="530" cy="406" rx="5" ry="2"/><ellipse class="th" cx="543" cy="406" rx="5" ry="2"/><ellipse class="th" cx="558" cy="406" rx="5" ry="2"/><ellipse class="th" cx="575" cy="406" rx="5" ry="2"/>
<rect x="525" y="410" width="11" height="15" fill="#666"/><rect x="538" y="410" width="11" height="15" fill="#666"/><rect x="553" y="410" width="11" height="15" fill="#666"/><rect x="570" y="410" width="11" height="15" fill="#666"/>
</g>
<line class="ld" x1="586" y1="392" x2="593" y2="392"/>
<text class="t" x="601" y="395">925</text>

<!-- 905 box -->
<rect x="620" y="364" width="86" height="96" fill="none" stroke="#111" stroke-width="2"/>
<path class="ld" d="M664,367 L672,378 V445 L661,457"/>
<text class="b" x="688" y="373">5 Speed</text><text class="b" x="690" y="381">ONLY</text>
<text class="t" x="680" y="414">905</text>
<rect x="630" y="367" width="11" height="15" fill="#777"/>
<path d="M630,370 H641 M630,374 H641 M630,378 H641" stroke="#ccc" stroke-width="1"/>
<rect x="633" y="385" width="4" height="16" fill="#666"/>
<ellipse class="th" cx="636" cy="404" rx="6" ry="2.5"/>
<ellipse cx="636" cy="414" rx="6" ry="4" fill="#888"/>
<circle cx="636" cy="423" r="1.2" fill="#444"/>
<ellipse class="th" cx="636" cy="430" rx="6" ry="2.5"/>
<ellipse cx="636" cy="438" rx="6" ry="3" fill="#999"/>
<ellipse class="th" cx="636" cy="446" rx="6" ry="2.5" stroke="#999"/>
<ellipse class="th" cx="636" cy="454" rx="6" ry="2.5"/>
<g class="ld"><line x1="644" y1="374" x2="656" y2="374"/><line x1="640" y1="391" x2="656" y2="391"/><line x1="643" y1="404" x2="656" y2="404"/><line x1="643" y1="414" x2="656" y2="414"/><line x1="640" y1="423" x2="656" y2="423"/><line x1="643" y1="430" x2="656" y2="430"/><line x1="643" y1="438" x2="656" y2="438"/><line x1="643" y1="446" x2="656" y2="446"/><line x1="643" y1="454" x2="656" y2="454"/></g>
<text class="t" x="663" y="377">906</text><text class="t" x="663" y="394">908</text><text class="t" x="663" y="407">195</text><text class="t" x="663" y="417">907</text><text class="t" x="663" y="426">784</text><text class="t" x="663" y="433">896</text><text class="t" x="663" y="441">909</text><text class="t" x="663" y="449">360</text><text class="t" x="663" y="457">896</text>

<!-- harness 446 -->
<path d="M716,392 C735,385 760,385 780,390 C800,394 812,395 808,410 C805,420 800,422 795,422" fill="none" stroke="#222" stroke-width="1.8"/>
<path d="M714,418 C735,426 765,428 800,424" fill="none" stroke="#222" stroke-width="1.8"/>
<path d="M725,388 L727,397 M742,386 L744,395 M756,386 L758,394 M775,389 L777,396" stroke="#222" stroke-width="2"/>
<rect x="712" y="386" width="7" height="6" fill="#222"/><rect x="710" y="414" width="8" height="8" fill="#222"/>
<circle cx="801" cy="422" r="6" fill="#222"/>
<text class="t" x="735" y="412">446</text><line class="ld" x1="735" y1="414" x2="737" y2="426"/>
<text class="t" x="776" y="410">846B</text><line class="ld" x1="784" y1="408" x2="790" y2="408"/>
<path class="th" d="M790,408 C795,404 802,405 800,410"/>
<text class="t" x="765" y="420">347</text><line class="ld" x1="771" y1="418" x2="778" y2="418"/>
<ellipse class="th" cx="784" cy="418" rx="6" ry="2.5"/>

<!-- rotated D box -->
<polygon points="793,370 877,317 918,374 834,428" fill="none" stroke="#111" stroke-width="2"/>
<path class="ld" d="M803,378 L815,360 L862,333 L878,346 M813,400 L825,412 L870,386 L885,367"/>
<ellipse class="th" cx="815" cy="378" rx="2.5" ry="6"/>
<ellipse cx="828" cy="370" rx="7" ry="7" fill="#aaa"/>
<rect x="838" y="358" width="14" height="9" fill="#222" transform="rotate(-30 845 362)"/>
<ellipse cx="860" cy="352" rx="6" ry="6" fill="#ccc" stroke="#777" stroke-width="0.6"/>
<ellipse class="th" cx="871" cy="345" rx="3" ry="7"/><ellipse class="th" cx="877" cy="342" rx="3" ry="7"/>
<ellipse class="th" cx="832" cy="397" rx="2.5" ry="6"/>
<ellipse cx="845" cy="388" rx="7" ry="7" fill="#aaa"/>
<rect x="854" y="374" width="14" height="9" fill="#222" transform="rotate(-30 861 378)"/>
<ellipse cx="875" cy="368" rx="6" ry="6" fill="#ccc" stroke="#777" stroke-width="0.6"/>
<ellipse class="th" cx="887" cy="361" rx="3" ry="7"/><ellipse class="th" cx="894" cy="358" rx="3" ry="7"/>
<text class="t" x="836" y="353">930</text><text class="t" x="873" y="391">930</text>
<text class="R" x="918" y="392">D</text>
<text class="b" x="890" y="409">5 Speed</text><text class="b" x="890" y="418">ONLY</text>

<!-- 995 group -->
<path class="ld" d="M787,450 L795,444 H890 L896,450"/>
<text class="t" x="840" y="442">995</text>
<path d="M832,448 L845,445 L860,452 L870,454 L870,458 L855,457 L840,453 Z" fill="#555"/>
<line class="ld" x1="868" y1="455" x2="873" y2="455"/><text class="t" x="884" y="457">995-1</text>
<line x1="812" y1="470" x2="823" y2="462" stroke="#444" stroke-width="1.5"/>
<line class="ld" x1="802" y1="465" x2="810" y2="467"/><text class="t" x="793" y="468">995-2</text>
<ellipse class="th" cx="828" cy="460" rx="4" ry="5"/>
<text class="t" x="838" y="472">995-3</text>
<path d="M848,463 L870,462 L877,470 L873,479 L850,478 Z" fill="#444"/>
<line class="ld" x1="877" y1="469" x2="882" y2="469"/><text class="t" x="889" y="471">995-5</text>
<path d="M842,484 L853,493 L864,479" fill="none" stroke="#555" stroke-width="1.2"/>
<text class="t" x="850" y="500">995-6</text>
<ellipse class="th" cx="884" cy="506" rx="5" ry="2.5" stroke="#888"/>
<text class="t" x="885" y="499">379</text>
<text class="R" x="918" y="473">E</text>

<!-- 991 group -->
<path class="ld" d="M500,478 L510,470 H635 L643,478"/>
<text class="t" x="573" y="467">991</text>
<line x1="584" y1="472" x2="584" y2="478" stroke="#444"/>
<line class="ld" x1="587" y1="472" x2="595" y2="472"/><text class="t" x="606" y="475">761-4</text>
<line x1="556" y1="477" x2="556" y2="486" stroke="#444"/>
<line class="ld" x1="537" y1="479" x2="554" y2="479"/><text class="t" x="527" y="482">991-5</text>
<line x1="560" y1="497" x2="572" y2="485" stroke="#333" stroke-width="2.5"/>
<line class="ld" x1="575" y1="481" x2="580" y2="481"/><text class="t" x="591" y="484">991-4</text>
<path d="M573,486 L600,487 L612,492 L630,493" fill="none" stroke="#333" stroke-width="2"/>
<circle cx="631" cy="493" r="3" fill="#444"/>
<text class="t" x="592" y="500">994</text>
<path d="M543,487 L560,484 L568,495 L566,508 L550,512 L541,500 Z" fill="#7a7a7a"/>
<path d="M565,490 L572,498 L566,512" fill="none" stroke="#777" stroke-width="1.5"/>
<text class="n" x="581" y="513">Linkage</text>
<line class="ld" x1="564" y1="512" x2="564" y2="519"/><text class="t" x="563" y="526">991-3</text>
<path d="M505,503 L522,508 L530,511" fill="none" stroke="#333" stroke-width="2"/>
<text class="t" x="511" y="499">991-2</text>
<path d="M525,527 L533,520 L550,520 L556,540 L557,566 L545,570" fill="none" stroke="#333" stroke-width="3"/>
<rect x="517" y="524" width="12" height="10" fill="#222"/>
<line class="ld" x1="537" y1="548" x2="552" y2="548"/><text class="t" x="530" y="551">410</text>
<ellipse cx="533" cy="570" rx="14" ry="9" fill="#888"/>
<path d="M507,580 L512,578 L515,592 L511,602 Z" fill="#333"/>
<line class="ld" x1="515" y1="592" x2="530" y2="592"/><text class="t" x="538" y="595">992</text>

<!-- solenoids -->
<g fill="#d8d8d8" stroke="#888" stroke-width="0.5">
<rect x="680" y="465" width="10" height="8"/><rect x="692" y="465" width="10" height="8"/><rect x="706" y="465" width="10" height="8"/><rect x="720" y="465" width="10" height="8"/><rect x="733" y="465" width="10" height="8"/><rect x="746" y="465" width="10" height="8"/>
</g>
<g fill="#1e1e1e">
<rect x="679" y="476" width="10" height="15" rx="4"/><rect x="692" y="478" width="10" height="15" rx="4"/><rect x="705" y="479" width="10" height="15" rx="4"/><rect x="718" y="481" width="10" height="15" rx="4"/><rect x="731" y="480" width="10" height="15" rx="4"/><rect x="744" y="483" width="10" height="15" rx="4"/>
</g>
<line class="ld" x1="757" y1="476" x2="768" y2="476"/><text class="t" x="778" y="479">843</text>
<text class="t" x="683" y="498">430</text><text class="t" x="696" y="499">423</text><text class="t" x="707" y="499">421</text><text class="t" x="721" y="503">439</text><text class="t" x="735" y="500">427</text><text class="t" x="747" y="503">425</text>
<text class="t" x="770" y="494">741</text>
<rect x="762" y="497" width="20" height="17" fill="#fff" stroke="#777" stroke-width="0.8"/>
<text class="t" x="772" y="504">V.B.</text><text class="t" x="772" y="512">Parts</text>

<!-- valve body 740 -->
<path class="ld" d="M628,503 L620,510 V593 L628,600"/>
<text class="t" x="609" y="552">740</text>
<path d="M657,506 L735,505 L740,530 L662,535 Z" fill="#555"/>
<path d="M630,518 L738,512 L740,560 L625,562 Z" fill="#111"/>
<g fill="#ccc"><circle cx="645" cy="525" r="1"/><circle cx="660" cy="530" r="1"/><circle cx="680" cy="522" r="1"/><circle cx="700" cy="535" r="1"/><circle cx="720" cy="525" r="1"/><circle cx="650" cy="545" r="1"/><circle cx="670" cy="550" r="1"/><circle cx="690" cy="545" r="1"/><circle cx="710" cy="552" r="1"/><circle cx="730" cy="545" r="1"/><circle cx="640" cy="555" r="1"/><circle cx="725" cy="535" r="1"/>
<circle cx="635" cy="540" r="1"/><circle cx="655" cy="537" r="1"/><circle cx="665" cy="542" r="1"/><circle cx="675" cy="533" r="1"/><circle cx="685" cy="555" r="1"/><circle cx="695" cy="528" r="1"/><circle cx="705" cy="542" r="1"/><circle cx="715" cy="538" r="1"/><circle cx="735" cy="555" r="1"/><circle cx="660" cy="558" r="1"/><circle cx="700" cy="558" r="1"/><circle cx="720" cy="557" r="1"/><circle cx="648" cy="532" r="1"/><circle cx="688" cy="538" r="1"/><circle cx="732" cy="520" r="1"/><circle cx="710" cy="520" r="1"/></g>
<path d="M622,562 L737,560 L735,586 L625,588 Z" fill="#6a6a6a"/>
<path d="M643,583 L726,582 L725,600 L645,600 Z" fill="#444"/>
<path d="M740,589 L773,593" stroke="#444" stroke-width="2"/>
<text class="t" x="760" y="582">741-1</text>

<!-- pan / filter -->
<path d="M813,515 L838,506 L900,512 L898,535 L818,538 Z" fill="#4e4e4e"/>
<line class="ld" x1="803" y1="518" x2="812" y2="518"/><text class="t" x="796" y="521">010</text>
<path d="M776,560 L800,548 L905,560 L898,600 L800,602 L782,590 Z" fill="#6e6e6e"/>
<path d="M790,562 L810,553 L893,564 L888,590 L805,593 Z" fill="#333"/>
<polygon points="775,555 808,530 905,552 900,578 800,580" fill="none" stroke="#1e1e1e" stroke-width="3"/>
<path d="M762,522 L785,535 L798,600" fill="none" stroke="#333" stroke-width="3"/>
<line class="ld" x1="900" y1="557" x2="907" y2="557"/><text class="t" x="916" y="560">300</text>
<line class="ld" x1="898" y1="582" x2="905" y2="582"/><text class="t" x="913" y="585">765</text>
<text class="R" x="918" y="576">F</text>
<path d="M890,600 H898 M894,597 V606" stroke="#333" stroke-width="2"/>
<line class="ld" x1="898" y1="600" x2="902" y2="600"/><text class="t" x="910" y="603">779</text>
</svg>
</body></html>
